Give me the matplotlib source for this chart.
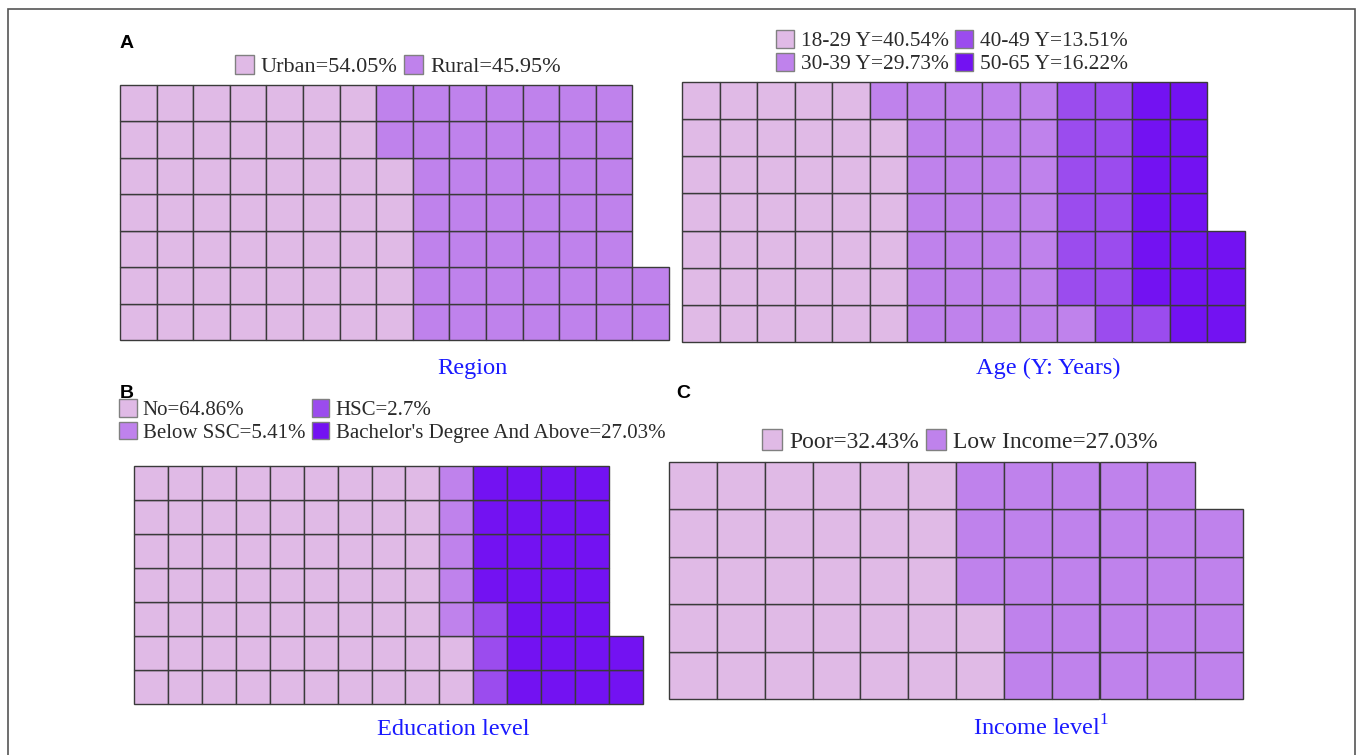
import matplotlib
matplotlib.use('Agg')
import matplotlib.pyplot as plt
from matplotlib.patches import Rectangle, Patch

# ---- data ----
region_labels = ['Urban', 'Rural']
region_pct = [54.05, 45.95]

age_labels = ['18-29 Y', '30-39 Y', '40-49 Y', '50-65 Y']
age_pct = [40.54, 29.73, 13.51, 16.22]

edu_labels = ['No', 'Below SSC', 'HSC', "Bachelor's Degree And Above"]
edu_pct = [64.86, 5.41, 2.7, 27.03]

income_labels = ['Poor', 'Low Income']
income_pct = [32.43, 27.03]

colors = ['#E0BAE6', '#BF82EC', '#9B4CEE', '#7312F2']

W, H = 1357, 755
plt.rcParams['font.family'] = ['Liberation Serif', 'DejaVu Serif']
plt.rcParams['mathtext.fontset'] = 'custom'
plt.rcParams['mathtext.rm'] = 'Liberation Serif'

fig = plt.figure(figsize=(W / 100, H / 100), dpi=100)


def px_axes(x0, y0, x1, y1):
    # pixel box (top-left origin) -> axes
    return fig.add_axes([x0 / W, 1 - y1 / H, (x1 - x0) / W, (y1 - y0) / H])


def waffle(ax, pct, nrows):
    # one cell per percent, filled column by column from bottom-left
    counts = [int(round(p)) for p in pct]
    total = sum(counts)
    ncols = -(-total // nrows)
    k = 0
    for i, n in enumerate(counts):
        for _ in range(n):
            col, row = k // nrows, k % nrows
            ax.add_patch(Rectangle((col, row), 1, 1, facecolor=colors[i],
                                   edgecolor='#3a3a3a', linewidth=1.0,
                                   clip_on=False))
            k += 1
    ax.set_xlim(0, ncols)
    ax.set_ylim(0, nrows)
    ax.axis('off')


def legend(labels, pct, cx, cy, ncol, size):
    handles = [Patch(facecolor=colors[i], edgecolor='#808080', linewidth=1.0,
                     label='%s=%s%%' % (labels[i], ('%g' % pct[i])))
               for i in range(len(labels))]
    fig.legend(handles=handles, loc='center', bbox_to_anchor=(cx / W, 1 - cy / H),
               ncol=ncol, frameon=False, fontsize=size, handlelength=0.85,
               handleheight=0.95, handletextpad=0.3, columnspacing=0.3,
               labelspacing=0.05, borderpad=0, labelcolor='#2a2a2a')


ax_a = px_axes(120, 85, 669, 340)
waffle(ax_a, region_pct, 7)
ax_age = px_axes(682, 82, 1245, 342)
waffle(ax_age, age_pct, 7)
ax_edu = px_axes(134, 466, 643, 704)
waffle(ax_edu, edu_pct, 7)
ax_inc = px_axes(669, 462, 1243, 699)
waffle(ax_inc, income_pct, 5)

legend(region_labels, region_pct, 398, 66, 2, 16)
legend(age_labels, age_pct, 952, 52, 2, 15.4)
legend(edu_labels, edu_pct, 392, 421, 2, 15)
legend(income_labels, income_pct, 960, 441, 2, 16.9)

title_kw = dict(fontsize=17.6, color='#1a1aff', ha='center', va='baseline')
fig.text(472 / W, 1 - 374 / H, 'Region', **title_kw)
fig.text(1048 / W, 1 - 374 / H, 'Age (Y: Years)', **title_kw)
fig.text(453 / W, 1 - 735 / H, 'Education level', **title_kw)
fig.text(1041 / W, 1 - 735 / H, 'Income level$^{1}$', **title_kw)

lab_kw = dict(fontsize=14, fontweight='bold', family=['Liberation Sans', 'DejaVu Sans'],
              va='center', ha='left', color='black')
fig.text(120 / W, 1 - 43 / H, 'A', **lab_kw)
fig.text(120 / W, 1 - 394 / H, 'B', **lab_kw)
fig.text(676 / W, 1 - 394 / H, 'C', **lab_kw)

# outer frame
fig.add_artist(Rectangle((8 / W, -0.05), (1355 - 8) / W, 1 - 9 / H + 0.05,
                         transform=fig.transFigure, fill=False,
                         edgecolor='#555555', linewidth=1.2))

fig.savefig('out.png', dpi=100)
